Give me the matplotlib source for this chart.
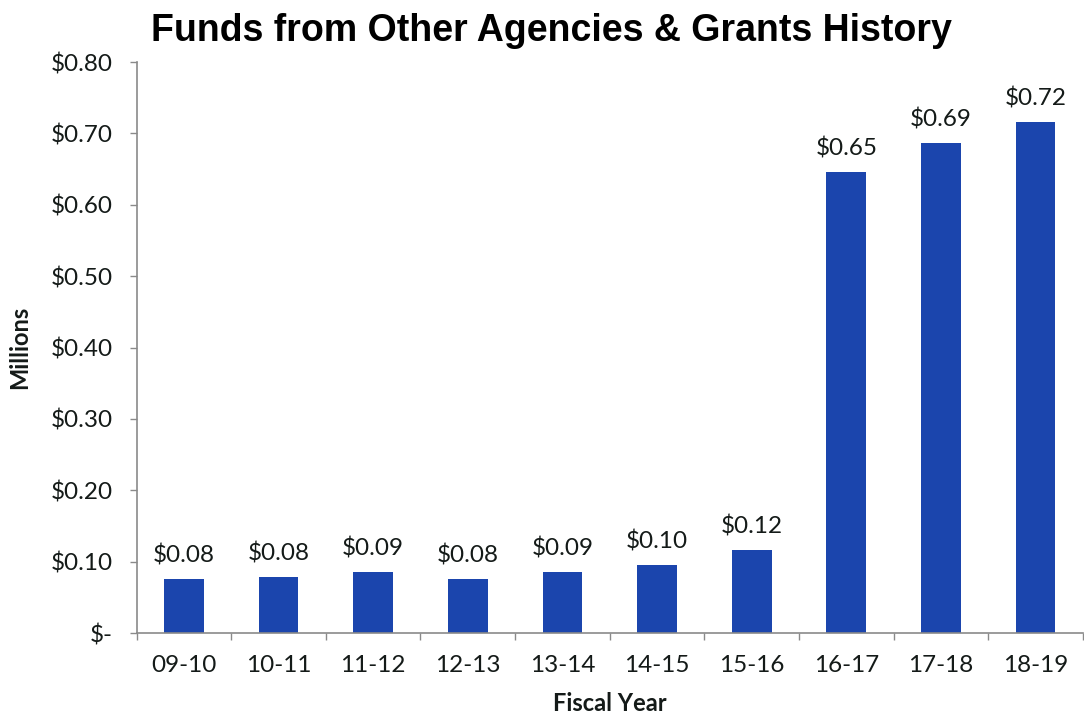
import matplotlib
matplotlib.use("Agg")
import matplotlib.pyplot as plt
import numpy as np

# fiscal years and funds received (millions of dollars)
years = ['09-10', '10-11', '11-12', '12-13', '13-14',
         '14-15', '15-16', '16-17', '17-18', '18-19']
funds = [0.076, 0.078, 0.086, 0.076, 0.086, 0.096, 0.116, 0.646, 0.686, 0.716]
yticks = [0.0, 0.1, 0.2, 0.3, 0.4, 0.5, 0.6, 0.7, 0.8]

BAR_COLOR = '#1b45ad'
TEXT_COLOR = '#141a18'
AXIS_COLOR = '#8a8a8a'
BODY_FONT = ['Lato', 'DejaVu Sans']


def money(v):
    return '$-' if v == 0 else '${:.2f}'.format(v)


fig = plt.figure(figsize=(10.84, 7.21), dpi=100)
ax = fig.add_axes([0.126, 0.122, 0.873, 0.792])

x = np.arange(len(years))
bars = ax.bar(x, funds, width=0.42, color=BAR_COLOR, zorder=2)

# value labels above each bar
for rect, v in zip(bars, funds):
    ax.annotate(money(v),
                xy=(rect.get_x() + rect.get_width() / 2, rect.get_height()),
                xytext=(0, 9), textcoords='offset points',
                ha='center', va='bottom', fontsize=17.5,
                family=BODY_FONT, color=TEXT_COLOR)

ax.set_xlim(-0.5, len(years) - 0.5)
ax.set_ylim(0, 0.8)

ax.set_yticks(yticks)
ax.set_yticklabels([money(v) for v in yticks], family=BODY_FONT,
                   fontsize=17.5, color=TEXT_COLOR)
ax.set_xticks(x)
ax.set_xticklabels(years, family=BODY_FONT, fontsize=17.5, color=TEXT_COLOR)
# category separators on the x axis
ax.set_xticks(np.arange(-0.5, len(years) - 0.4, 1.0), minor=True)

ax.tick_params(axis='x', which='major', length=0, pad=16)
ax.tick_params(axis='x', which='minor', length=5, width=1, color=AXIS_COLOR)
ax.tick_params(axis='y', length=5, width=1, color=AXIS_COLOR, pad=12)

for side in ['top', 'right']:
    ax.spines[side].set_visible(False)
for side in ['left', 'bottom']:
    ax.spines[side].set_color(AXIS_COLOR)
    ax.spines[side].set_linewidth(1.2)

ax.set_ylabel('Millions', family=BODY_FONT, fontsize=17, fontweight='bold',
              color=TEXT_COLOR, labelpad=14)
ax.set_xlabel('Fiscal Year', family=BODY_FONT, fontsize=17, fontweight='bold',
              color=TEXT_COLOR, labelpad=11)

fig.text(0.509, 0.957, 'Funds from Other Agencies & Grants History',
         ha='center', va='center', fontsize=27, fontweight='bold',
         family=['Liberation Sans', 'DejaVu Sans'], color='black')

fig.savefig('out.png', dpi=100, facecolor='white')
